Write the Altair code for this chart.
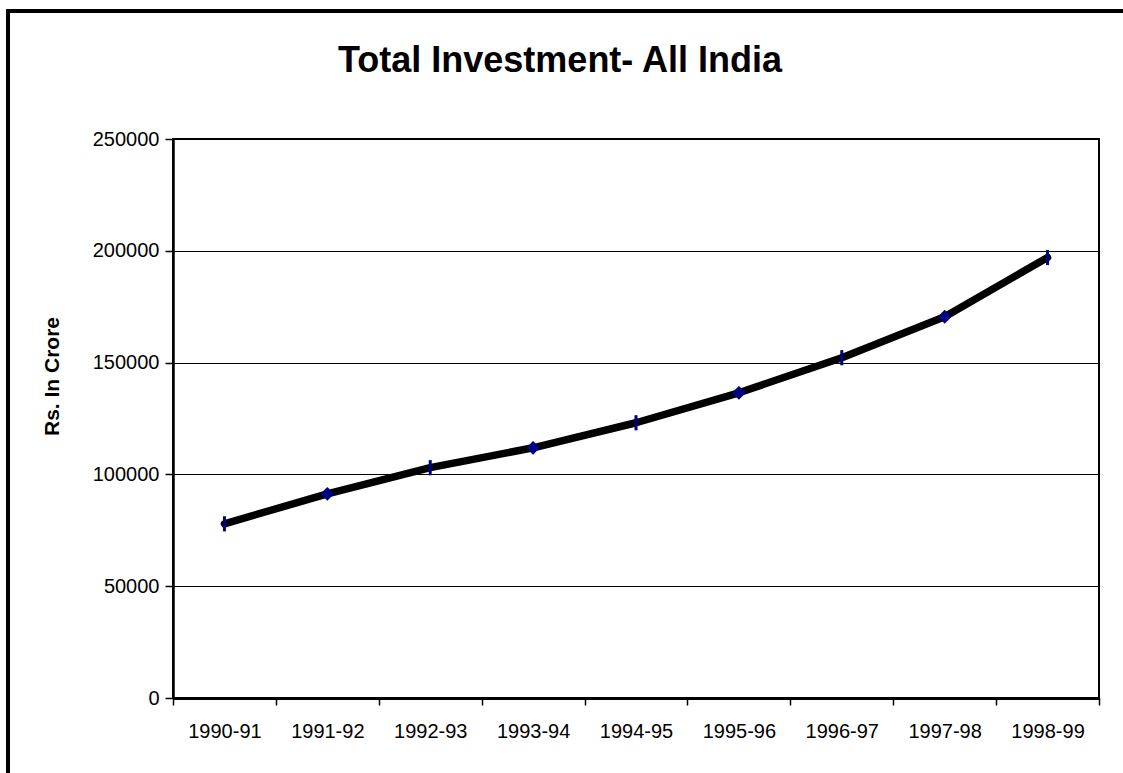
import altair as alt
import pandas as pd

years = ["1990-91", "1991-92", "1992-93", "1993-94", "1994-95",
         "1995-96", "1996-97", "1997-98", "1998-99"]
investment = [77900, 91300, 103000, 111900, 123100, 136500, 152200, 170500, 197000]

df = pd.DataFrame({"year": years, "value": investment})

FONT = "Liberation Sans"

x_enc = alt.X("year:N", sort=years,
              scale=alt.Scale(paddingInner=0, paddingOuter=0),
              axis=alt.Axis(title=None, labelAngle=0, labelFontSize=20, labelFont=FONT,
                            labelColor="black", labelPadding=16, tickBand="extent",
                            tickSize=7, tickColor="black", tickWidth=1.5,
                            domainColor="black", domainWidth=3, grid=False))
y_enc = alt.Y("value:Q",
              scale=alt.Scale(domain=[0, 250000], nice=False),
              axis=alt.Axis(title="Rs. In Crore", values=[0, 50000, 100000, 150000, 200000, 250000],
                            format="d", labelFontSize=20, labelFont=FONT, labelColor="black",
                            labelPadding=6, tickSize=8, tickColor="black", tickWidth=1.5,
                            domainColor="black", domainWidth=2.5,
                            gridColor="black", gridWidth=1.2, gridOpacity=1,
                            titleFont=FONT, titleFontSize=21, titleFontWeight="bold",
                            titleColor="black", titleAngle=270, titleX=-121, titleY=237,
                            titleAlign="center", titleBaseline="middle"))

base = alt.Chart(df).encode(x=x_enc, y=y_enc)

line = base.mark_line(color="black", strokeWidth=7.5, strokeJoin="round", strokeCap="round")

markers = base.transform_window(idx="row_number()")

diamonds = markers.transform_filter("datum.idx % 2 == 0").mark_point(
    shape="diamond", filled=True, color="#000080", size=190, opacity=1)
bars = markers.transform_filter("datum.idx % 2 == 1").mark_point(
    shape="M0,-1L0,1", filled=False, stroke="#000080", strokeWidth=3, size=230, opacity=1)

frame_left = alt.Chart(df).mark_rule(color="black", strokeWidth=3).encode(
    x=alt.value(-165), y=alt.value(-128), y2=alt.value(640))
frame_top = alt.Chart(df).mark_rule(color="black", strokeWidth=3).encode(
    x=alt.value(-166.5), x2=alt.value(960), y=alt.value(-128))

chart = alt.layer(frame_left, frame_top, line, diamonds, bars).properties(
    width=926, height=559,
    title=alt.TitleParams("Total Investment- All India", font=FONT, fontSize=36,
                          fontWeight="bold", color="black", anchor="middle",
                          dx=-76, offset=0, dy=98, baseline="alphabetic"),
    autosize=alt.AutoSizeParams(type="none"),
    padding={"left": 173, "top": 139, "right": 24, "bottom": 75},
    background="white",
).configure_view(stroke="black", strokeWidth=2)

chart.save("out.html", embed_options={"renderer": "svg", "actions": False})
